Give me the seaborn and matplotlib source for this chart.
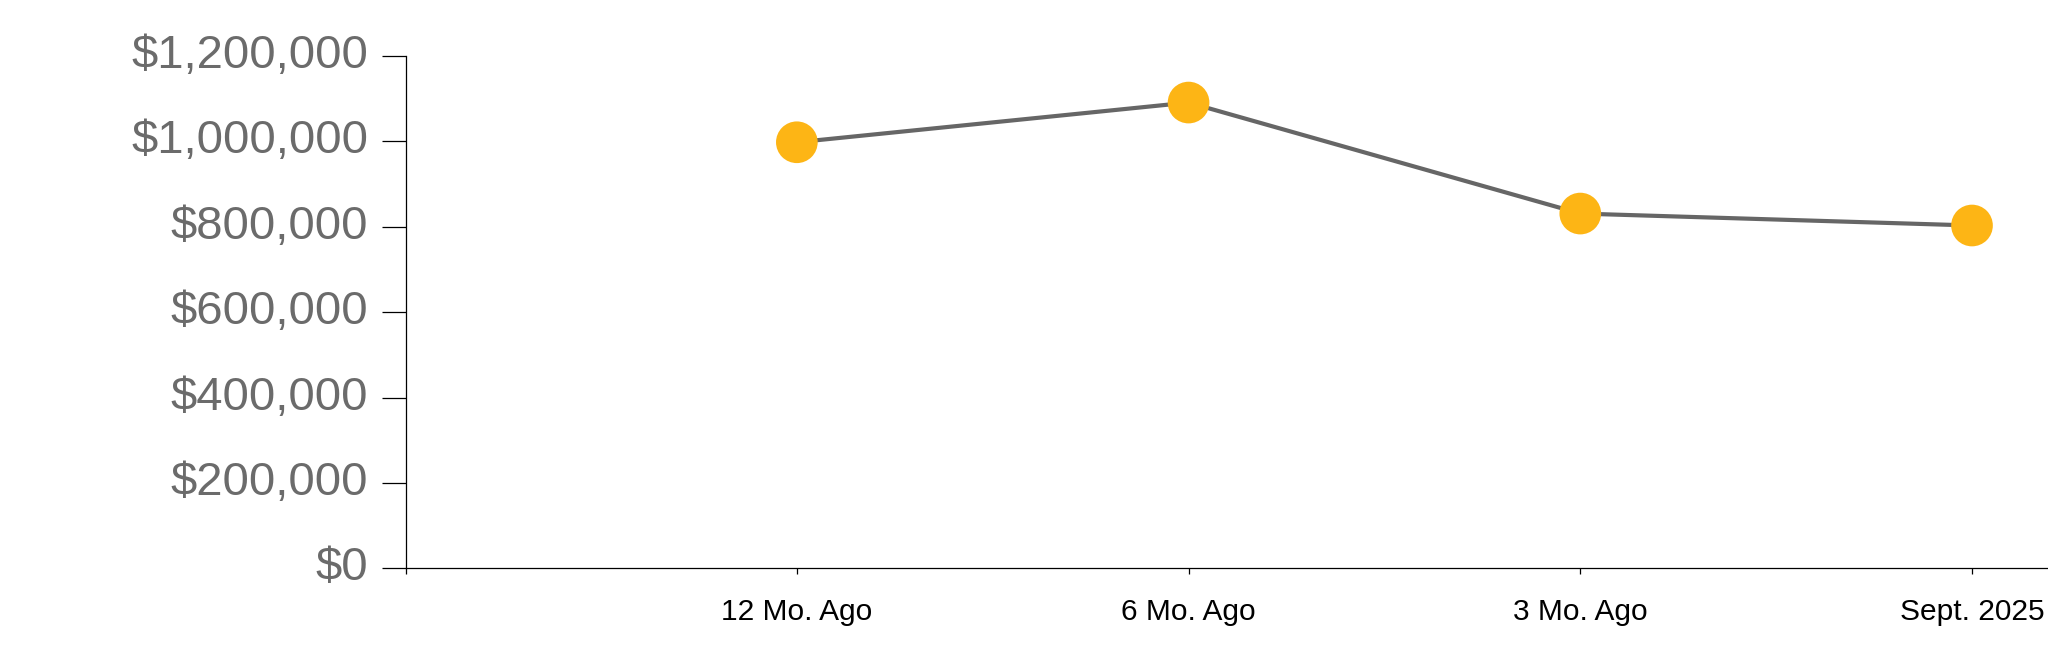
import pandas as pd
import matplotlib.pyplot as plt
import matplotlib.ticker as mticker
import seaborn as sns

# values
periods = ["12 Mo. Ago", "6 Mo. Ago", "3 Mo. Ago", "Sept. 2025"]
prices = [998000, 1091000, 831000, 803000]
y_ticks = [0, 200000, 400000, 600000, 800000, 1000000, 1200000]

LINE_COLOR = "#666666"
DOT_COLOR = "#FDB515"
LABEL_GRAY = "#6b6b6b"


def setup_style():
    sns.set_theme(style="white")
    plt.rcParams.update({
        'font.family': ['Liberation Sans', 'DejaVu Sans'],
        'axes.edgecolor': 'black',
        'axes.linewidth': 0.9,
        'xtick.color': 'black',
        'ytick.color': 'black',
    })


def plot_price_trend(out_path):
    df = pd.DataFrame({'period': periods, 'price': prices})
    df['pos'] = range(len(df))

    fig = plt.figure(figsize=(20.48, 6.63), dpi=100)
    ax = fig.add_axes([0.1982, 0.1428, 0.8018, 0.7727])

    sns.lineplot(data=df, x='pos', y='price', color=LINE_COLOR,
                 linewidth=3.0, ax=ax, zorder=2)
    sns.scatterplot(data=df, x='pos', y='price', color=DOT_COLOR,
                    s=900, edgecolor='none', ax=ax, zorder=3)

    ax.set_xlim(-0.998, 3.194)
    ax.set_ylim(0, 1200000)

    # y axis: currency labels, long outward ticks
    ax.set_yticks(y_ticks)
    ax.yaxis.set_major_formatter(mticker.FuncFormatter(lambda v, _: f"${v:,.0f}"))
    ax.tick_params(axis='y', direction='out', length=17, width=0.9,
                   pad=10, labelsize=34, labelcolor=LABEL_GRAY, left=True)
    for lbl in ax.get_yticklabels():
        lbl.set_verticalalignment('center')

    # x axis: category labels, short ticks (plus outer tick at the domain start)
    ax.set_xticks([-0.998] + list(df['pos']))
    ax.set_xticklabels([''] + periods)
    ax.tick_params(axis='x', direction='out', length=4.3, width=0.9,
                   pad=17, labelsize=21.5, labelcolor='black', bottom=True)

    ax.set_xlabel('')
    ax.set_ylabel('')
    for side in ('top', 'right'):
        ax.spines[side].set_visible(False)

    fig.savefig(out_path, dpi=100)
    plt.close(fig)


if __name__ == "__main__":
    setup_style()
    plot_price_trend('out.png')
